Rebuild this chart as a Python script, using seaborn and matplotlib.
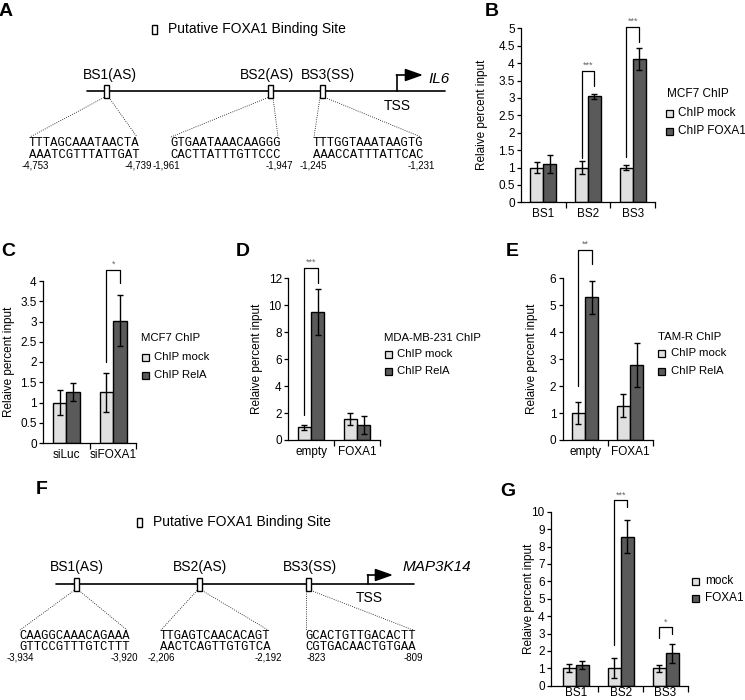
"""
FOXA1 binding at the IL6 / MAP3K14 promoters: ChIP summary figure (panels A-G)
"""

import numpy as np
import pandas as pd
import matplotlib
matplotlib.use("Agg")
import matplotlib.pyplot as plt
import seaborn as sns
from matplotlib.patches import Rectangle
from matplotlib.ticker import FuncFormatter, MultipleLocator

W, H = 745, 700
LIGHT = "#e0e0e0"
DARK = "#5a5a5a"
YLABEL = "Relaive percent input"

# ── A: IL6 promoter ──
A_GENE = "IL6"
A_SITES = ["BS1(AS)", "BS2(AS)", "BS3(SS)"]
A_SEQ_TOP = ["TTTAGCAAATAACTA", "GTGAATAAACAAGGG", "TTTGGTAAATAAGTG"]
A_SEQ_BOT = ["AAATCGTTTATTGAT", "CACTTATTTGTTCCC", "AAACCATTTATTCAC"]
A_START = ["-4,753", "-1,961", "-1,245"]
A_END = ["-4,739", "-1,947", "-1,231"]

# ── B: MCF7 ChIP, FOXA1 on IL6 sites ──
B_GROUPS = ["BS1", "BS2", "BS3"]
B_SERIES = ["ChIP mock", "ChIP FOXA1"]
B_MOCK = [1.0, 1.0, 1.0]
B_MOCK_ERR = [0.15, 0.2, 0.08]
B_FOXA1 = [1.1, 3.05, 4.12]
B_FOXA1_ERR = [0.25, 0.07, 0.32]

# ── C: MCF7 ChIP, RelA after siFOXA1 ──
C_GROUPS = ["siLuc", "siFOXA1"]
C_SERIES = ["ChIP mock", "ChIP RelA"]
C_MOCK = [1.0, 1.25]
C_MOCK_ERR = [0.31, 0.48]
C_RELA = [1.25, 3.02]
C_RELA_ERR = [0.22, 0.63]

# ── D: MDA-MB-231 ChIP ──
D_GROUPS = ["empty", "FOXA1"]
D_SERIES = ["ChIP mock", "ChIP RelA"]
D_MOCK = [0.95, 1.58]
D_MOCK_ERR = [0.18, 0.46]
D_RELA = [9.5, 1.13]
D_RELA_ERR = [1.7, 0.67]

# ── E: TAM-R ChIP ──
E_GROUPS = ["empty", "FOXA1"]
E_SERIES = ["ChIP mock", "ChIP RelA"]
E_MOCK = [1.0, 1.28]
E_MOCK_ERR = [0.41, 0.44]
E_RELA = [5.29, 2.78]
E_RELA_ERR = [0.61, 0.81]

# ── F: MAP3K14 promoter ──
F_GENE = "MAP3K14"
F_SITES = ["BS1(AS)", "BS2(AS)", "BS3(SS)"]
F_SEQ_TOP = ["CAAGGCAAACAGAAA", "TTGAGTCAACACAGT", "GCACTGTTGACACTT"]
F_SEQ_BOT = ["GTTCCGTTTGTCTTT", "AACTCAGTTGTGTCA", "CGTGACAACTGTGAA"]
F_START = ["-3,934", "-2,206", "-823"]
F_END = ["-3,920", "-2,192", "-809"]

# ── G: FOXA1 on MAP3K14 sites ──
G_GROUPS = ["BS1", "BS2", "BS3"]
G_SERIES = ["mock", "FOXA1"]
G_MOCK = [1.0, 1.0, 1.0]
G_MOCK_ERR = [0.23, 0.57, 0.2]
G_FOXA1 = [1.19, 8.56, 1.86]
G_FOXA1_ERR = [0.23, 0.95, 0.53]

# significance: (group index, label, bracket top, left leg end, right leg end, label y)
B_SIG = [(1, "***", 3.77, 1.26, 3.34, 3.93), (2, "***", 5.05, 1.31, 4.62, 5.21)]
C_SIG = [(1, "*", 4.27, 2.0, 3.96, 4.42)]
D_SIG = [(0, "***", 12.74, 1.86, 11.68, 13.2)]
E_SIG = [(0, "**", 7.05, 2.0, 6.53, 7.26)]
G_SIG = [(1, "***", 10.67, 2.34, 10.25, 10.92), (2, "*", 3.39, 2.72, 2.97, 3.66)]


def px_rect(x0, x1, y0, y1):
    # pixel box (top-left origin) -> figure fraction
    return [x0 / W, 1 - y1 / H, (x1 - x0) / W, (y1 - y0) / H]


def bar_panel(fig, box, groups, series, vals, errs, ylim, ystep, xlim, ylab_px, sigs,
              xpad=4):
    ax = fig.add_axes(px_rect(*box))
    rows = []
    for name, v, e in zip(series, vals, errs):
        for g, vi, ei in zip(groups, v, e):
            rows.append({"group": g, "series": name, "value": vi, "err": ei})
    df = pd.DataFrame(rows)

    sns.barplot(data=df, x="group", y="value", hue="series", order=groups,
                hue_order=series, palette=[LIGHT, DARK], saturation=1,
                edgecolor="black", linewidth=1.0, width=0.58,
                errorbar=None, legend=False, ax=ax)

    centers = []
    for cont, name in zip(ax.containers, series):
        sub = df[df.series == name]
        xs = [b.get_x() + b.get_width() / 2 for b in cont]
        centers.append(xs)
        ax.errorbar(xs, sub.value, yerr=sub.err, fmt="none", ecolor="black",
                    elinewidth=1.0, capsize=2.5, capthick=1.0, zorder=5)

    for gi, label, top, lo_l, lo_r, ys in sigs:
        xl, xr = centers[0][gi], centers[1][gi]
        ax.plot([xl, xl, xr, xr], [lo_l, top, top, lo_r], color="black",
                lw=0.9, clip_on=False, zorder=6)
        ax.text((xl + xr) / 2, ys, label, ha="center", va="center",
                fontsize=6.5, color="#666666", clip_on=False)

    ax.set_xlim(*xlim)
    ax.set_ylim(*ylim)
    ax.yaxis.set_major_locator(MultipleLocator(ystep))
    ax.yaxis.set_major_formatter(FuncFormatter(lambda v, p: f"{v:g}"))
    ax.set_xticks(np.arange(0.5, len(groups)), minor=True)
    ax.tick_params(axis="x", which="major", length=0, labelsize=8.5, pad=xpad)
    ax.tick_params(axis="x", which="minor", length=4, width=0.9, direction="out")
    ax.tick_params(axis="y", length=3, width=0.9, labelsize=8.5, pad=1.5)
    ax.set_xlabel("")
    ax.set_ylabel(YLABEL, fontsize=8.5)
    ax.yaxis.set_label_coords((ylab_px + 5 - box[0]) / (box[1] - box[0]), 0.5)
    sns.despine(ax=ax)
    return ax


def legend_block(ov, series, x_sq, x_txt, ys, title=None, title_xy=None, size=8.2):
    if title:
        ov.text(title_xy[0], title_xy[1], title, fontsize=size, va="center")
    for name, col, y in zip(series, [LIGHT, DARK], ys):
        ov.add_patch(Rectangle((x_sq, y - 3.5), 7, 7, facecolor=col,
                               edgecolor="black", lw=0.9))
        ov.text(x_txt, y, name, fontsize=size, va="center")


def promoter(ov, lay, gene, sites, seq_top, seq_bot, starts, ends):
    x0, x1, ly = lay["line"]
    ov.plot([x0, x1], [ly, ly], color="black", lw=1.2)
    # TSS arrow
    tx, ay, tip = lay["tss"]
    ov.plot([tx, tx], [ly, ay], color="black", lw=1.2)
    ov.annotate("", xy=(tip, ay), xytext=(tx - 0.6, ay),
                arrowprops=dict(arrowstyle="-|>,head_length=0.9,head_width=0.32",
                                color="black", lw=1.2, shrinkA=0, shrinkB=0))
    ov.text(lay["gene_xy"][0], lay["gene_xy"][1], gene, fontsize=11,
            style="italic", va="center")
    ov.text(lay["tss_xy"][0], lay["tss_xy"][1], "TSS", fontsize=10,
            ha="center", va="center")

    seq_w = 15 * 0.6 * 8.8 * 100 / 72
    for i in range(3):
        bx = lay["boxes"][i]
        ov.add_patch(Rectangle((bx - 2.5, ly - 6.5), 5, 13, facecolor="white",
                               edgecolor="black", lw=1.0, zorder=3))
        ov.text(lay["label_x"][i], lay["label_y"], sites[i], fontsize=10,
                ha="center", va="center")
        sx = lay["seq_x"][i]
        fy = lay["fan_y"]
        ov.plot([bx - 2.5, sx + 1], [ly + 6.5, fy], color="black", lw=0.6, ls=":")
        ov.plot([bx + 2.5, sx + seq_w - 2], [ly + 6.5, fy], color="black", lw=0.6, ls=":")
        ov.text(sx, lay["seq_y"][0], seq_top[i], fontsize=8.8,
                family="Liberation Mono", va="center")
        ov.text(sx, lay["seq_y"][1], seq_bot[i], fontsize=8.8,
                family="Liberation Mono", va="center")
        ov.text(lay["num_l"][i], lay["num_y"], starts[i], fontsize=7, va="center")
        ov.text(lay["num_r"][i], lay["num_y"], ends[i], fontsize=7, va="center",
                ha="right")

    lx, lyy = lay["key"]
    ov.add_patch(Rectangle((lx, lyy - 4.5), 4.5, 9, facecolor="white",
                           edgecolor="black", lw=1.0))
    ov.text(lx + 16, lyy, "Putative FOXA1 Binding Site", fontsize=10, va="center")


A_LAYOUT = {
    "line": (87, 445, 91), "tss": (397, 75, 423),
    "gene_xy": (428, 79), "tss_xy": (397, 106),
    "boxes": [106.5, 270.5, 322.5], "label_x": [110, 267, 328], "label_y": 75,
    "seq_x": [29, 170, 313], "seq_y": [143, 155], "fan_y": 137,
    "num_l": [22, 153, 300], "num_r": [152, 293, 435], "num_y": 166,
    "key": (152, 29),
}
F_LAYOUT = {
    "line": (56, 414, 584), "tss": (368, 575, 393),
    "gene_xy": (403, 567), "tss_xy": (369, 598),
    "boxes": [76.5, 199.5, 308.5], "label_x": [77, 200, 310], "label_y": 567,
    "seq_x": [19, 160, 305], "seq_y": [636, 647], "fan_y": 630,
    "num_l": [7, 148, 307], "num_r": [138, 282, 423], "num_y": 658,
    "key": (137, 522),
}


sns.set_theme(style="ticks", rc={
    "axes.linewidth": 0.9, "axes.edgecolor": "black", "axes.labelcolor": "black",
    "xtick.color": "black", "ytick.color": "black", "text.color": "black",
})
plt.rcParams["font.family"] = ["Liberation Sans", "DejaVu Sans"]

fig = plt.figure(figsize=(W / 100, H / 100), dpi=100)

# overlay in pixel coords for diagrams, legends and panel letters
ov = fig.add_axes([0, 0, 1, 1])
ov.set_xlim(0, W)
ov.set_ylim(H, 0)
ov.axis("off")
ov.patch.set_facecolor("none")

promoter(ov, A_LAYOUT, A_GENE, A_SITES, A_SEQ_TOP, A_SEQ_BOT, A_START, A_END)
promoter(ov, F_LAYOUT, F_GENE, F_SITES, F_SEQ_TOP, F_SEQ_BOT, F_START, F_END)

bar_panel(fig, (521, 655, 28.3, 202.3), B_GROUPS, B_SERIES, [B_MOCK, B_FOXA1],
          [B_MOCK_ERR, B_FOXA1_ERR], (0, 5), 0.5, (-0.5, 2.5), 483, B_SIG)
bar_panel(fig, (43, 136.5, 281, 443), C_GROUPS, C_SERIES, [C_MOCK, C_RELA],
          [C_MOCK_ERR, C_RELA_ERR], (0, 4), 0.5, (-0.5, 1.5), 10, C_SIG)
bar_panel(fig, (288, 380, 278.3, 440), D_GROUPS, D_SERIES, [D_MOCK, D_RELA],
          [D_MOCK_ERR, D_RELA_ERR], (0, 12), 2, (-0.5, 1.5), 258, D_SIG)
bar_panel(fig, (562.5, 652.5, 278.3, 440), E_GROUPS, E_SERIES, [E_MOCK, E_RELA],
          [E_MOCK_ERR, E_RELA_ERR], (0, 6), 1, (-0.5, 1.5), 533, E_SIG)
bar_panel(fig, (551, 688, 511.7, 685.7), G_GROUPS, G_SERIES, [G_MOCK, G_FOXA1],
          [G_MOCK_ERR, G_FOXA1_ERR], (0, 10), 1, (-0.55, 2.5), 530, G_SIG, xpad=1)

legend_block(ov, B_SERIES, 666, 678, [113, 131], "MCF7 ChIP", (667, 94), size=8.5)
legend_block(ov, C_SERIES, 142, 154, [357, 375], "MCF7 ChIP", (141, 338))
legend_block(ov, D_SERIES, 385, 397, [354, 371], "MDA-MB-231 ChIP", (384, 338))
legend_block(ov, E_SERIES, 658, 671, [353, 371], "TAM-R ChIP", (658, 337))
legend_block(ov, G_SERIES, 692, 705, [581, 598], size=8.5)

for letter, (x, y) in {"A": (6, 11), "B": (492, 11), "C": (8, 252), "D": (243, 252),
                       "E": (512, 252), "F": (42, 490), "G": (508, 492)}.items():
    ov.text(x, y, letter, fontsize=14, fontweight="bold", ha="center", va="center")

fig.savefig("out.png", dpi=100)
plt.close(fig)
